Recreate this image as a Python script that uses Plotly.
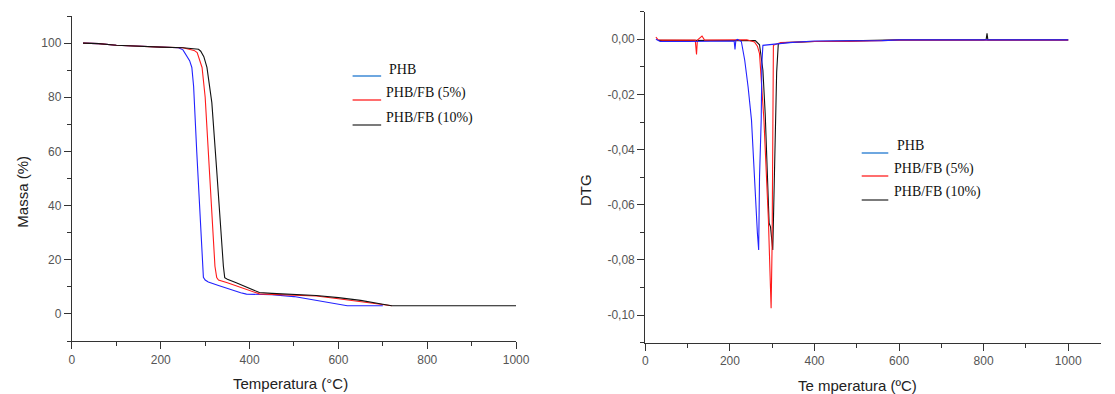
import plotly.graph_objects as go

# ---------------- TGA data ----------------
tga_T_phb = [25, 60, 100, 150, 200, 240, 250, 258, 265, 270, 274, 281, 289, 293, 296, 300, 307, 330, 356, 380, 393, 420, 450, 500, 550, 580, 606, 620, 700]
tga_M_phb = [100, 99.8, 99.2, 98.8, 98.5, 98.3, 97.5, 95.5, 93.5, 91, 84, 60, 35, 20, 13.5, 12.5, 11.8, 10.5, 9.0, 7.8, 7.3, 7.3, 7.1, 6.4, 5.0, 4.2, 3.5, 3.0, 3.0]

tga_T_fb5 = [25, 60, 100, 150, 200, 250, 265, 275, 282, 293, 300, 307, 315, 322, 326, 330, 350, 370, 400, 422, 450, 500, 550, 600, 650, 680, 700, 720]
tga_M_fb5 = [100, 99.8, 99.2, 98.8, 98.5, 98.3, 97.8, 97.3, 96.5, 91, 80, 59, 35, 17.6, 13.4, 12.5, 11.5, 10.3, 8.5, 7.4, 7.2, 7.0, 6.6, 5.6, 4.6, 3.8, 3.4, 3.0]

tga_T_fb10 = [25, 60, 100, 150, 200, 250, 275, 285, 290, 297, 304, 315, 326, 333, 341, 344, 350, 370, 400, 422, 450, 500, 550, 600, 650, 700, 720, 1000]
tga_M_fb10 = [100, 99.8, 99.2, 98.8, 98.5, 98.3, 98.0, 97.7, 97.0, 95, 91, 78, 53, 35, 17.6, 13.4, 12.8, 11.5, 9.5, 7.9, 7.6, 7.2, 6.8, 6.0, 5.0, 3.6, 3.0, 3.0]

# ---------------- DTG data ----------------
dtg_T_phb = [25, 35, 100, 150, 205, 210, 212, 214, 218, 227, 235, 243, 251, 255, 258.5, 265, 268, 270, 274, 275.5, 278, 300, 320, 340, 400, 500, 560, 600, 800, 1000]
dtg_D_phb = [0.0, -0.0008, -0.0008, -0.0008, -0.0008, -0.0006, -0.0037, -0.0004, 0.0, -0.0008, -0.0076, -0.0173, -0.0293, -0.0414, -0.0535, -0.0703, -0.0764, -0.05, -0.029, -0.0088, -0.0022, -0.0018, -0.0016, -0.0012, -0.0006, -0.0006, -0.0005, -0.0002, -0.0001, -0.0002]

dtg_T_fb5 = [25, 30, 40, 118, 121, 123, 125, 134, 140, 200, 240, 258, 265, 270, 275.7, 280.4, 285.7, 291, 295.8, 297.4, 299.7, 301.3, 302.8, 320, 400, 480, 560, 600, 1000]
dtg_D_fb5 = [0.0008, -0.0002, -0.0003, -0.0003, -0.0055, -0.0003, 0.0, 0.0012, -0.0003, -0.0002, -0.0002, -0.001, -0.0025, -0.0052, -0.0173, -0.0293, -0.0474, -0.0655, -0.0896, -0.0975, -0.075, -0.041, -0.0022, -0.0012, -0.0008, -0.0008, -0.0006, -0.0003, -0.0003]

dtg_T_fb10 = [30, 100, 200, 260, 270, 278, 283.4, 288, 292.7, 296, 298, 301.3, 303, 305, 309, 310.5, 314.4, 330, 400, 600, 800, 806, 808, 810, 1000]
dtg_D_fb10 = [-0.0004, -0.0004, -0.0004, -0.0005, -0.002, -0.0112, -0.0269, -0.047, -0.0667, -0.068, -0.072, -0.0764, -0.065, -0.05, -0.029, -0.012, -0.0016, -0.0012, -0.0008, -0.0002, -0.0002, 0.0, 0.0022, -0.0002, -0.0002]

series_names = ["PHB", "PHB/FB (5%)", "PHB/FB (10%)"]
line_colors = ["#2222ff", "#ff1a1a", "#111111"]
legend_colors = ["#1f78d0", "#ff2020", "#333333"]

x_ticks = [0, 200, 400, 600, 800, 1000]
tga_y_ticks = [0, 20, 40, 60, 80, 100]
dtg_y_ticks = [0.0, -0.02, -0.04, -0.06, -0.08, -0.10]
dtg_y_ticktext = ["0,00", "-0,02", "-0,04", "-0,06", "-0,08", "-0,10"]

W, H = 1115, 394

def px_x(p):
    return p / W

def px_y(p):
    return 1 - p / H

fig = go.Figure()

tga = [(tga_T_phb, tga_M_phb), (tga_T_fb5, tga_M_fb5), (tga_T_fb10, tga_M_fb10)]
for (t, m), nm, c in zip(tga, series_names, line_colors):
    fig.add_trace(go.Scatter(x=t, y=m, mode="lines", name=nm, line=dict(color=c, width=1.1),
                             xaxis="x", yaxis="y", showlegend=False))

dtg = [(dtg_T_fb10, dtg_D_fb10, 2), (dtg_T_fb5, dtg_D_fb5, 1), (dtg_T_phb, dtg_D_phb, 0)]
for t, d, i in dtg:
    fig.add_trace(go.Scatter(x=t, y=d, mode="lines", name=series_names[i],
                             line=dict(color=line_colors[i], width=1.1),
                             xaxis="x2", yaxis="y2", showlegend=False))

tick_font = dict(family="Liberation Sans, Arial", size=12, color="#555555")
axis_common = dict(showline=True, linecolor="#333333", linewidth=1.3, ticks="outside",
                   ticklen=7, tickwidth=1.2, tickcolor="#333333", showgrid=False,
                   zeroline=False, tickfont=tick_font, mirror=False)

fig.update_layout(
    width=W, height=H,
    margin=dict(l=0, r=0, t=0, b=0),
    paper_bgcolor="white", plot_bgcolor="white",
    xaxis=dict(domain=[px_x(70), px_x(521)], range=[0, 1000], anchor="y",
               tickvals=x_ticks, minor=dict(ticks="outside", ticklen=4, dtick=100, tickcolor="#333333"),
               **axis_common),
    yaxis=dict(domain=[px_y(341), px_y(16)], range=[-10, 110], anchor="x",
               tickvals=tga_y_ticks, minor=dict(ticks="outside", ticklen=4, dtick=10, tickcolor="#333333"),
               **axis_common),
    xaxis2=dict(domain=[px_x(652.3), 1.0], range=[0, 1000 * (1115 - 652.3) / (1081.7 - 652.3)], anchor="y2",
                tickvals=x_ticks, minor=dict(ticks="outside", ticklen=4, dtick=100, tickcolor="#333333"),
                **axis_common),
    yaxis2=dict(domain=[px_y(342.7), px_y(11.7)], range=[-0.11, 0.01], anchor="x2",
                tickvals=dtg_y_ticks, ticktext=dtg_y_ticktext,
                minor=dict(ticks="outside", ticklen=4, dtick=0.01, tickcolor="#333333"),
                **axis_common),
)

title_font = dict(family="Liberation Sans, Arial", size=15, color="#222222")
annotations = [
    dict(text="Temperatura (°C)", x=px_x(292), y=px_y(383), xref="paper", yref="paper",
         showarrow=False, font=title_font, xanchor="center", yanchor="middle"),
    dict(text="Te mperatura (ºC)", x=px_x(868), y=px_y(385), xref="paper", yref="paper",
         showarrow=False, font=title_font, xanchor="center", yanchor="middle"),
    dict(text="Massa (%)", x=px_x(19), y=px_y(192), xref="paper", yref="paper", textangle=-90,
         showarrow=False, font=title_font, xanchor="center", yanchor="middle"),
    dict(text="DTG", x=px_x(591), y=px_y(190), xref="paper", yref="paper", textangle=-90,
         showarrow=False, font=title_font, xanchor="center", yanchor="middle"),
]

shapes = []
legend_font = dict(family="Liberation Serif, Times New Roman", size=14, color="#111111")
left_lines = [76, 100, 125]
left_texts = [(390, 70), (387, 93), (387, 118)]
right_lines = [153, 176, 200]
right_texts = [(906, 145), (903, 169), (903, 192)]
for i in range(3):
    shapes.append(dict(type="line", xref="paper", yref="paper", x0=px_x(355), x1=px_x(384),
                       y0=px_y(left_lines[i]), y1=px_y(left_lines[i]),
                       line=dict(color=legend_colors[i], width=1.3)))
    annotations.append(dict(text=series_names[i], x=px_x(left_texts[i][0]), y=px_y(left_texts[i][1]),
                            xref="paper", yref="paper", showarrow=False, font=legend_font,
                            xanchor="left", yanchor="middle"))
    shapes.append(dict(type="line", xref="paper", yref="paper", x0=px_x(872), x1=px_x(899),
                       y0=px_y(right_lines[i]), y1=px_y(right_lines[i]),
                       line=dict(color=legend_colors[i], width=1.3)))
    annotations.append(dict(text=series_names[i], x=px_x(right_texts[i][0]), y=px_y(right_texts[i][1]),
                            xref="paper", yref="paper", showarrow=False, font=legend_font,
                            xanchor="left", yanchor="middle"))

fig.update_layout(annotations=annotations, shapes=shapes)
fig.write_html("out.html", config={"displayModeBar": False},
               post_script="document.body.style.margin='0';document.body.style.overflow='hidden';")
